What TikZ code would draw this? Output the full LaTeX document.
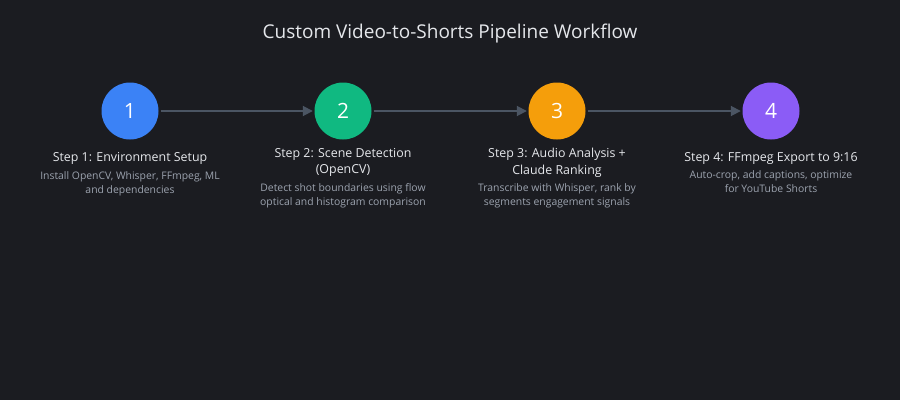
\documentclass[tikz,border=0pt]{standalone}
\usepackage{fontspec}
\setmainfont{Open Sans}
\usetikzlibrary{arrows.meta,positioning}

\definecolor{bgdark}{HTML}{1B1C21}
\definecolor{linegray}{HTML}{4B5563}
\definecolor{titlegray}{HTML}{E5E7EB}
\definecolor{descgray}{HTML}{9CA3AF}
\definecolor{stepblue}{HTML}{3B82F6}
\definecolor{stepgreen}{HTML}{10B981}
\definecolor{steporange}{HTML}{F59E0B}
\definecolor{steppurple}{HTML}{8B5CF6}

\tikzset{
  stepdot/.style={circle, minimum size=57pt, inner sep=0pt, text=white,
    font=\fontsize{21}{24}\selectfont},
  steptitle/.style={anchor=north, align=center, inner sep=0pt, text=titlegray,
    font=\fontsize{12.4}{16.5}\selectfont},
  stepdesc/.style={align=center, inner sep=0pt, text=descgray,
    font=\fontsize{10.4}{14}\selectfont},
  flow/.style={draw=linegray, line width=1.8pt,
    -{Triangle[length=10pt,width=10pt]}, shorten <=2pt, shorten >=1.5pt}
}

\begin{document}
\begin{tikzpicture}[x=1pt,y=-1pt]
  % Canvas, 900 by 400 as in the reference.
  \fill[bgdark] (0,0) rectangle (900,400);
  \useasboundingbox (0,0) rectangle (900,400);
  % Heading.
  \node[text=titlegray, font=\fontsize{19}{22}\selectfont] (head) at (450,34)
    {Custom Video-to-Shorts Pipeline Workflow};
  % The four numbered steps.
  \node[stepdot, fill=stepblue] (s1) at (130,111) {1};
  \node[stepdot, fill=stepgreen] (s2) at (343,111) {2};
  \node[stepdot, fill=steporange] (s3) at (557,111) {3};
  \node[stepdot, fill=steppurple] (s4) at (771,111) {4};
  % Connectors between neighbouring steps.
  \draw[flow] (s1) -- (s2);
  \draw[flow] (s2) -- (s3);
  \draw[flow] (s3) -- (s4);
  % Step titles.
  \node[steptitle] (t1) at (130,152) {Step 1: Environment Setup};
  \node[steptitle] (t2) at (343,148) {Step 2: Scene Detection\\(OpenCV)};
  \node[steptitle] (t3) at (557,148) {Step 3: Audio Analysis +\\Claude Ranking};
  \node[steptitle] (t4) at (771,152) {Step 4: FFmpeg Export to 9:16};
  % Step descriptions.
  \node[stepdesc, below=6.5pt of t1] (d1) {Install OpenCV, Whisper, FFmpeg, ML\\and dependencies};
  \node[stepdesc, below=6.5pt of t2] (d2) {Detect shot boundaries using flow\\optical and histogram comparison};
  \node[stepdesc, below=6.5pt of t3] (d3) {Transcribe with Whisper, rank by\\segments engagement signals};
  \node[stepdesc, below=6.5pt of t4] (d4) {Auto-crop, add captions, optimize\\for YouTube Shorts};
\end{tikzpicture}
\end{document}
